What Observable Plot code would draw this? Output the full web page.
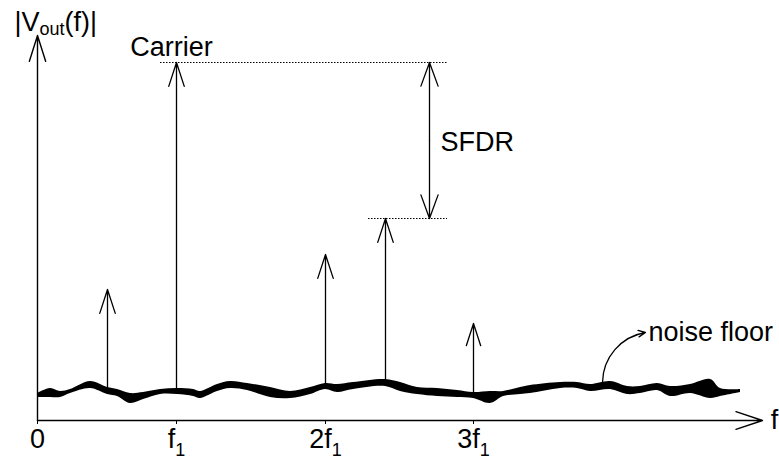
<!DOCTYPE html>
<html><head><meta charset="utf-8">
<script src="https://cdn.jsdelivr.net/npm/d3@7"></script>
<script src="https://cdn.jsdelivr.net/npm/@observablehq/plot@0.6"></script>
<style>
html,body{margin:0;padding:0;background:#fff;overflow:hidden}
#chart{width:779px;height:459px}
svg{display:block;font-family:"Liberation Sans",Arial,sans-serif}
</style>
</head><body><div id="chart"></div>
<script>
// Axis ticks (frequency positions, schematic units)
const tickPos = [0, 139, 288, 436];
const tickLabels = ["0", "f1", "2f1", "3f1"];

// Spectral lines: position, noise-floor base, peak level
const spikeX    = [70, 139, 288, 348, 436];
const spikeBase = [32, 31, 36, 40, 27];
const spikeTop  = [131, 358, 166, 202, 97];

// Reference levels (carrier and largest spur)
const carrierLevel = 358;
const spurLevel = 202;

// Noise floor band (upper and lower edge)
const noiseX      = [0, 13, 23, 33, 53, 70, 80, 93, 106, 123, 140, 156, 163, 180, 193, 210, 233, 253, 273, 288, 300, 316, 348, 363, 380, 400, 420, 436, 453, 466, 483, 493, 523, 540, 553, 573, 590, 603, 620, 633, 653, 673, 683, 703];
const noiseTop    = [27, 32, 29, 31, 39, 33, 31, 27, 28, 31, 32, 31, 29, 36, 39, 37, 33, 29, 33, 37, 36, 38, 41, 38, 33, 32, 30, 28, 29, 29, 33, 35, 38, 38, 36, 39, 34, 34, 37, 34, 36, 41, 32, 31];
const noiseBottom = [23, 23, 23, 27, 32, 26, 24, 17, 21, 26, 26, 24, 22, 29, 32, 30, 23, 22, 26, 31, 28, 31, 34, 29, 26, 24, 23, 22, 17, 24, 26, 27, 32, 32, 29, 31, 26, 27, 30, 24, 27, 22, 24, 28];

// Axis extents
const xAxisEnd = 725;
const yAxisEnd = 385;

const spikes = spikeX.map((x, i) => ({x, base: spikeBase[i], top: spikeTop[i]}));
const noise = noiseX.map((x, i) => ({x, top: noiseTop[i], bottom: noiseBottom[i]}));
const sfdrX = 392;
const sfdrMid = (carrierLevel + spurLevel) / 2;

const FS = 27;
const ink = "#000";

const svg = Plot.plot({
  width: 779,
  height: 459,
  marginLeft: 37,
  marginRight: 0,
  marginTop: 35,
  marginBottom: 39,
  x: {domain: [0, 742], axis: null},
  y: {domain: [0, 385], axis: null},
  style: {fontFamily: '"Liberation Sans", Arial, sans-serif', fontSize: FS + "px", background: "#fff", color: "#000"},
  marks: [
    // noise floor
    Plot.areaY(noise, {x: "x", y1: "bottom", y2: "top", fill: ink, curve: "catmull-rom"}),
    // axes
    Plot.arrow([{x1: 0, y1: 0, x2: 0, y2: yAxisEnd}], {x1: "x1", y1: "y1", x2: "x2", y2: "y2", stroke: ink, strokeWidth: 1.4, headAngle: 35, headLength: 29}),
    Plot.arrow([{x1: 0, y1: 0, x2: xAxisEnd, y2: 0}], {x1: "x1", y1: "y1", x2: "x2", y2: "y2", stroke: ink, strokeWidth: 1.4, headAngle: 37, headLength: 30}),
    Plot.axisX({ticks: tickPos, tickFormat: (d) => tickLabels[tickPos.indexOf(d)], tickSize: 4, tickPadding: 4, fontSize: FS, anchor: "bottom", label: null}),
    // spectral lines
    Plot.arrow(spikes, {x1: "x", x2: "x", y1: "base", y2: "top", stroke: ink, strokeWidth: 1.3, headAngle: 36, headLength: 29}),
    // dotted reference lines
    Plot.ruleY([{y: carrierLevel, x1: 123, x2: 410}, {y: spurLevel, x1: 331, x2: 410}], {y: "y", x1: "x1", x2: "x2", stroke: ink, strokeWidth: 1.2, strokeDasharray: "1.5,1.5"}),
    // SFDR double arrow
    Plot.arrow([{y2: carrierLevel}, {y2: spurLevel}], {x1: sfdrX, x2: sfdrX, y1: sfdrMid, y2: "y2", stroke: ink, strokeWidth: 1.3, headAngle: 40, headLength: 29}),
    // noise floor pointer
    Plot.arrow([{x1: 565, y1: 38, x2: 608, y2: 88}], {x1: "x1", y1: "y1", x2: "x2", y2: "y2", bend: 40, stroke: ink, strokeWidth: 1.3, headAngle: 50, headLength: 9}),
    // labels
    Plot.text(["Carrier"], {x: 134, y: 365, text: d => d, textAnchor: "middle", lineAnchor: "bottom", fontSize: FS, fill: ink}),
    Plot.text(["SFDR"], {x: 403, y: 270, text: d => d, textAnchor: "start", lineAnchor: "bottom", fontSize: FS, fill: ink}),
    Plot.text(["noise floor"], {x: 611, y: 80, text: d => d, textAnchor: "start", lineAnchor: "bottom", fontSize: FS, fill: ink}),
    Plot.text(["|Vout(f)|"], {x: -23, y: 390, text: d => d, textAnchor: "start", lineAnchor: "bottom", fontSize: FS, fill: ink}),
    Plot.text(["f"], {x: 737, y: -8, text: d => d, textAnchor: "middle", lineAnchor: "bottom", fontSize: FS, fill: ink})
  ]
});

// subscripts
d3.select(svg).selectAll("text").each(function () {
  const el = d3.select(this);
  const t = el.text();
  let parts = null, shift = 0;
  const m = /^(\d*f)1$/.exec(t);
  if (m) { parts = [m[1], "1", ""]; shift = 8; }
  else if (t === "|Vout(f)|") { parts = ["|V", "out", "(f)|"]; shift = 4; }
  if (!parts) return;
  el.text("");
  el.append("tspan").text(parts[0]);
  el.append("tspan").attr("font-size", "18px").attr("dy", shift).text(parts[1]);
  if (parts[2]) el.append("tspan").attr("dy", -shift).text(parts[2]);
});

svg.style.maxWidth = "none";
svg.style.width = "779px";
svg.style.height = "459px";
document.getElementById("chart").appendChild(svg);
</script>
</body></html>
